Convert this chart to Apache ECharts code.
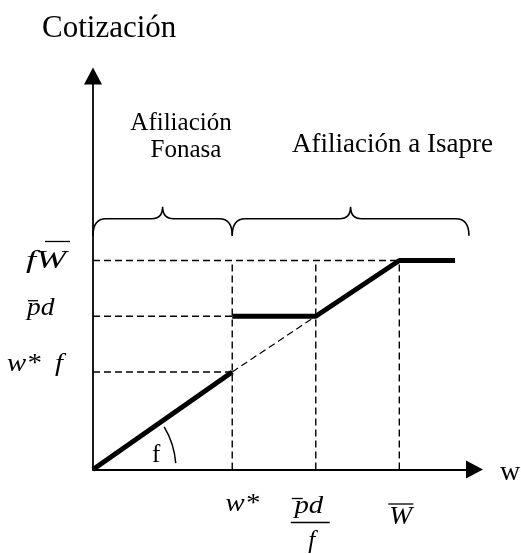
<!DOCTYPE html>
<html>
<head>
<meta charset="utf-8">
<script src="https://cdn.jsdelivr.net/npm/echarts@6/dist/echarts.min.js"></script>
<style>
html, body { margin: 0; padding: 0; background: #fff; }
#chart { width: 521px; height: 554px; }
</style>
</head>
<body>
<div id="chart"></div>
<script>
// valores (unidades arbitrarias)
const wStar = 2.5;      // w*
const pdOverF = 4;      // p̄d / f
const wBar = 5.5;       // W̄
const wEnd = 6.5;       // fin del tramo plano
const wStarF = 1.75;    // w* f
const pdBar = 2.75;     // p̄d
const fWBar = 3.75;     // fW̄

const xTicks = [wStar, pdOverF, wBar];
const yTicks = [wStarF, pdBar, fWBar];

// tramos de la cotización
const tramoFonasa = [[0, 0], [wStar, wStarF]];
const tramoIsapre = [[wStar, pdBar], [pdOverF, pdBar], [wBar, fWBar], [wEnd, fWBar]];
const prolongacion = [[wStar, wStarF], [pdOverF, pdBar]];

// guías punteadas: horizontales [y, x hasta], verticales hasta fW̄
const guiasH = [[wStarF, wStar], [pdBar, wStar], [fWBar, wBar]];
const guiasV = [wStar, pdOverF, wBar];

// llaves de afiliación [desde, hasta, nivel]
const llaves = [[0, 2.5, 4.5], [2.5, 6.75, 4.5]];

const serif = '"Liberation Serif", "Times New Roman", serif';

function linea(data, width, dashed) {
  return {
    type: 'line',
    data: data,
    symbol: 'none',
    silent: true,
    z: dashed ? 2 : 3,
    lineStyle: { color: '#000', width: width, type: dashed ? [7, 4] : 'solid', cap: 'butt' }
  };
}

function llave(xa, xb, y) {
  const xm = (xa + xb) / 2;
  const baja = 17, sube = 12, esq = 13, pico = 11;
  return 'M ' + xa + ' ' + (y + baja) + ' Q ' + xa + ' ' + y + ' ' + (xa + esq) + ' ' + y +
    ' L ' + (xm - pico) + ' ' + y + ' Q ' + xm + ' ' + y + ' ' + xm + ' ' + (y - sube) +
    ' Q ' + xm + ' ' + y + ' ' + (xm + pico) + ' ' + y +
    ' L ' + (xb - esq) + ' ' + y + ' Q ' + xb + ' ' + y + ' ' + xb + ' ' + (y + baja);
}

const series = [];
guiasH.forEach(g => series.push(linea([[0, g[0]], [g[1], g[0]]], 1.4, true)));
guiasV.forEach(x => series.push(linea([[x, 0], [x, fWBar]], 1.4, true)));
series.push(linea(prolongacion, 1.2, true));
series.push(linea(tramoFonasa, 5, false));
series.push(linea(tramoIsapre, 5, false));
series.push({
  type: 'custom',
  silent: true,
  data: llaves,
  renderItem: function (params, api) {
    const a = api.coord([api.value(0), api.value(2)]);
    const b = api.coord([api.value(1), api.value(2)]);
    return {
      type: 'path',
      shape: { pathData: llave(a[0], b[0], a[1]) },
      style: { stroke: '#000', fill: 'none', lineWidth: 1.6 }
    };
  }
});

const axisBase = {
  type: 'value',
  min: 0,
  axisTick: { show: false },
  axisLabel: { show: false },
  splitLine: { show: false },
  axisLine: {
    show: true,
    symbol: ['none', 'triangle'],
    symbolSize: [18, 17],
    lineStyle: { color: '#000', width: 1.8 }
  }
};

var myChart = echarts.init(document.getElementById('chart'));
myChart.setOption({
  backgroundColor: '#fff',
  animation: false,
  grid: { left: 93, top: 76, width: 381.5, height: 393.5 },
  xAxis: Object.assign({}, axisBase, { max: 6.85 }),
  yAxis: Object.assign({}, axisBase, { max: 7.06 }),
  series: series
});

const px = p => myChart.convertToPixel({ gridIndex: 0 }, p);

function texto(t, x, y, size, italic, align, sx) {
  return {
    type: 'text', x: x, y: y, silent: true, scaleX: sx || 1,
    style: {
      text: t,
      font: (italic ? 'italic ' : '') + size + 'px ' + serif,
      fill: '#000',
      textAlign: align || 'left',
      textVerticalAlign: 'middle'
    }
  };
}
function raya(x1, y1, x2, y2, w) {
  return { type: 'line', silent: true, shape: { x1: x1, y1: y1, x2: x2, y2: y2 }, style: { stroke: '#000', lineWidth: w || 1.3 } };
}

const o = px([0, 0]);
const g = [];

// títulos
g.push(texto('Cotización', 42, 29, 31, false));
g.push(texto('Afiliación', 181, 123, 25, false, 'center'));
g.push(texto('Fonasa', 186, 150.5, 25, false, 'center'));
g.push(texto('Afiliación a Isapre', 292, 145, 27, false));
g.push(texto('w', 500, 473, 28, false));

// ángulo f
g.push({ type: 'arc', silent: true,
  shape: { cx: o[0], cy: o[1], r: 83, startAngle: -0.54, endAngle: -0.077, clockwise: true },
  style: { stroke: '#000', fill: 'none', lineWidth: 1.5 } });
g.push(texto('f', 152, 455.5, 25, false));

// etiquetas del eje vertical
const yfW = px([0, yTicks[2]])[1];
const ypd = px([0, yTicks[1]])[1];
const ywf = px([0, yTicks[0]])[1];
g.push(texto('fW', 26, yfW + 0.5, 25, true, 'left', 1.45));
g.push(raya(45, yfW - 19, 70, yfW - 19));
g.push(texto('pd', 27, ypd - 8, 25, true, 'left', 1.1));
g.push(raya(28, ypd - 15.5, 38, ypd - 15.5));
g.push(texto('w*  f', 7, ywf - 8, 25, true, 'left', 1.15));

// etiquetas del eje horizontal
const xws = px([xTicks[0], 0])[0];
const xpd = px([xTicks[1], 0])[0];
const xW = px([xTicks[2], 0])[0];
g.push(texto('w*', xws + 10, 504, 25, true, 'center', 1.15));
g.push(texto('pd', xpd - 7, 506, 25, true, 'center', 1.15));
g.push(raya(xpd - 24, 498.5, xpd - 13, 498.5));
g.push(raya(xpd - 25, 522.5, xpd + 14, 522.5));
g.push(texto('f', xpd - 4, 541, 25, true, 'center'));
g.push(texto('W', xW + 1.5, 517, 25, true, 'center', 1.1));
g.push(raya(xW - 11, 504, xW + 14, 504));

myChart.setOption({ graphic: g });
</script>
</body>
</html>
